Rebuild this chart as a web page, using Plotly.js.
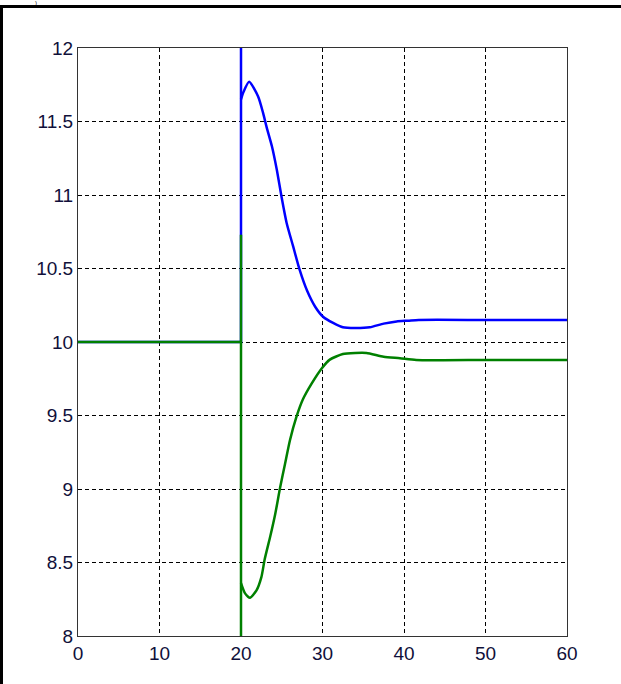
<!DOCTYPE html>
<html>
<head>
<meta charset="utf-8">
<script src="https://cdn.plot.ly/plotly-3.0.1.min.js"></script>
<style>
  html, body { margin: 0; padding: 0; background: #fff; }
  #wrap { position: relative; width: 621px; height: 684px; overflow: hidden; }
  #chart { position: absolute; left: 0; top: 0; width: 621px; height: 684px; }
  .frame-top { position: absolute; left: 0; top: 5px; width: 621px; height: 3px; background: #000; }
  .frame-left { position: absolute; left: 0; top: 5px; width: 3px; height: 679px; background: #000; }
  .corner-mark { position: absolute; left: 35px; top: 0; font: 6px/6px "Liberation Sans", Arial, sans-serif; color: #000; }
</style>
</head>
<body>
<div id="wrap">
  <div id="chart"></div>
  <div class="frame-top"></div>
  <div class="frame-left"></div>
  <div class="corner-mark">)</div>
</div>
<script>
// Upper response (blue): jump at t = 20, overshoot, settle near 10.15
const upperT = [0, 20, 20, 20, 20.3, 21.0, 22.1, 22.7, 23.15, 23.8, 24.4, 25.0, 25.6, 26.4, 27.2, 28.1, 29.1, 30.1, 31.3, 32.5, 34.0, 35.8, 37.5, 39.1, 40.5, 41.8, 50, 60];
const upperV = [10, 10, 13, 11.65, 11.70, 11.77, 11.67, 11.56, 11.46, 11.33, 11.17, 10.98, 10.81, 10.65, 10.49, 10.35, 10.24, 10.17, 10.13, 10.10, 10.095, 10.10, 10.125, 10.14, 10.145, 10.15, 10.15, 10.15];
const upperJumpEnd = 3;   // index where the smooth response begins

// Lower response (green): mirror-like dip, settle near 9.88
const lowerT = [0, 20, 20, 20, 20, 20.5, 21.1, 21.9, 22.5, 22.9, 23.6, 24.2, 24.8, 25.4, 26.0, 26.8, 27.6, 28.7, 29.9, 30.9, 32.5, 34.0, 35.4, 37.5, 39.5, 41.5, 50, 60];
const lowerV = [10, 10, 10.73, 7, 8.36, 8.29, 8.26, 8.31, 8.40, 8.52, 8.68, 8.83, 9.01, 9.17, 9.33, 9.49, 9.61, 9.72, 9.82, 9.88, 9.918, 9.925, 9.925, 9.90, 9.89, 9.878, 9.877, 9.877];
const lowerJumpEnd = 4;

const xTicks = [0, 10, 20, 30, 40, 50, 60];
const yTicks = [8, 8.5, 9, 9.5, 10, 10.5, 11, 11.5, 12];
const yTickText = ["8", "8.5", "9", "9.5", "10", "10.5", "11", "11.5", "12"];

const BLUE = "#0000ff", GREEN = "#008000", LW = 2.5;

// Each series: the step segment drawn straight, the response drawn smoothly.
function seriesTraces(t, v, cut, color) {
  return [
    { x: t.slice(0, cut + 1), y: v.slice(0, cut + 1), type: "scatter", mode: "lines",
      line: { color: color, width: LW, shape: "linear" }, hoverinfo: "skip" },
    { x: t.slice(cut), y: v.slice(cut), type: "scatter", mode: "lines",
      line: { color: color, width: LW, shape: "spline", smoothing: 0.6 }, hoverinfo: "skip" }
  ];
}

const traces = [].concat(
  seriesTraces(upperT, upperV, upperJumpEnd, BLUE),
  seriesTraces(lowerT, lowerV, lowerJumpEnd, GREEN)
);

const axisCommon = {
  showline: true, mirror: true, linecolor: "#333333", linewidth: 1,
  showgrid: true, gridcolor: "#000000", gridwidth: 1, griddash: "4px,3px",
  zeroline: false, ticks: "", fixedrange: true,
  tickfont: { family: "Liberation Sans, Arial, sans-serif", size: 19, color: "#10103a" }
};

const layout = {
  width: 621, height: 684,
  margin: { l: 78, r: 54, t: 48, b: 48, pad: 0 },
  paper_bgcolor: "#ffffff", plot_bgcolor: "#ffffff",
  showlegend: false,
  xaxis: Object.assign({}, axisCommon, {
    range: [0, 60], tickmode: "array", tickvals: xTicks, ticktext: xTicks.map(String)
  }),
  yaxis: Object.assign({}, axisCommon, {
    range: [8, 12], tickmode: "array", tickvals: yTicks, ticktext: yTickText
  })
};

Plotly.newPlot("chart", traces, layout, { staticPlot: true, displayModeBar: false });
</script>
</body>
</html>
